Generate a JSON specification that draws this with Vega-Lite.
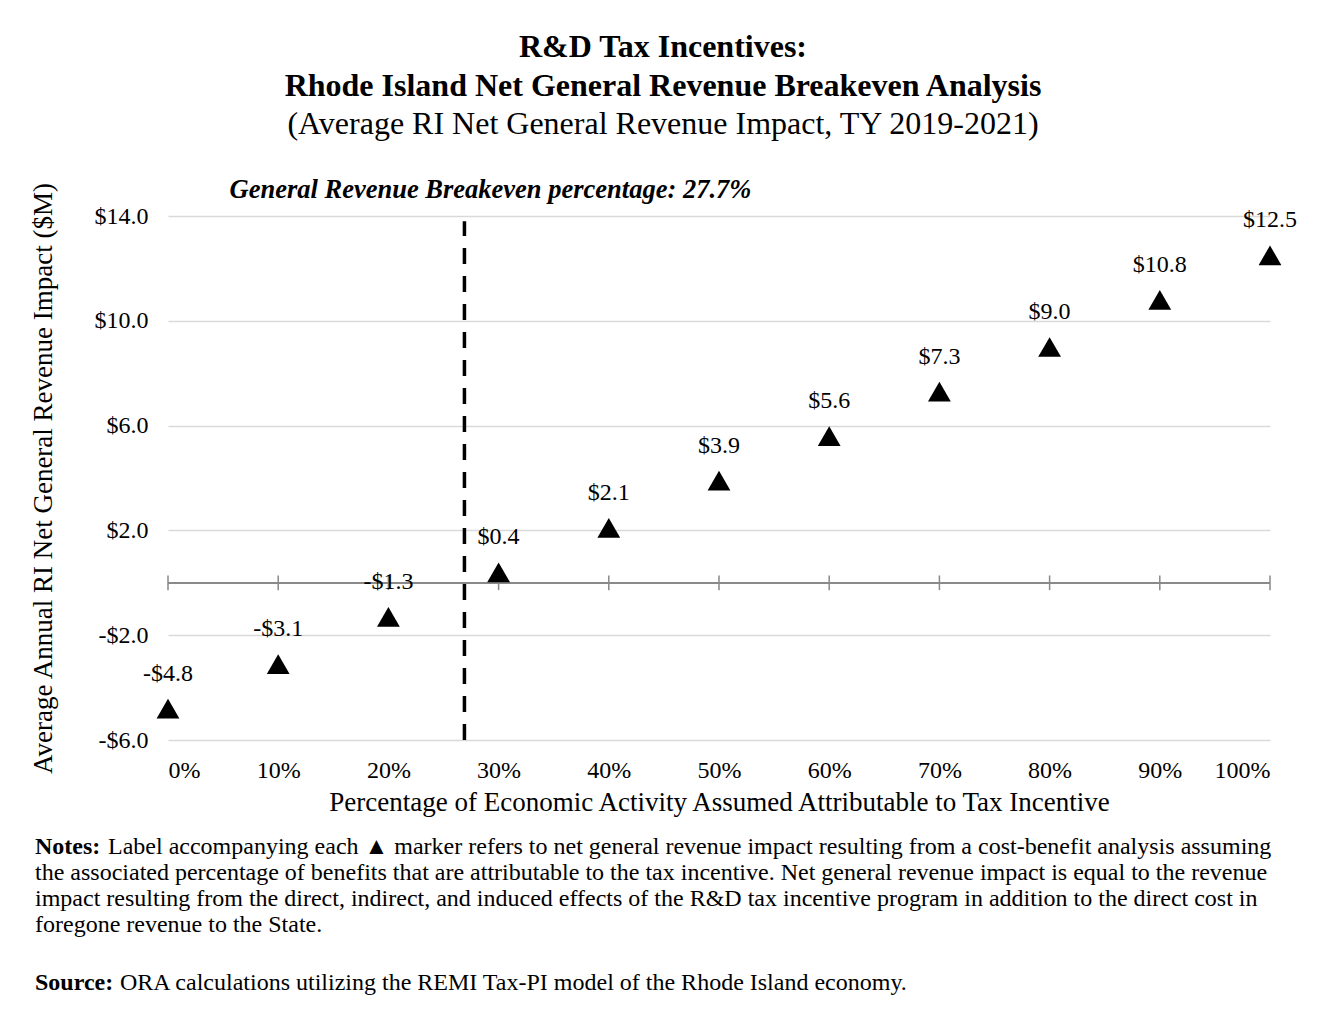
{
  "$schema": "https://vega.github.io/schema/vega-lite/v6.json",
  "background": "white",
  "padding": {"left": 28, "top": 31, "right": 5, "bottom": 5},
  "spacing": 20,
  "config": {
    "font": "Liberation Serif",
    "view": {"stroke": null},
    "axis": {"labelFont": "Liberation Serif", "titleFont": "Liberation Serif", "labelColor": "black", "titleColor": "black", "titleFontWeight": "normal"},
    "text": {"font": "Liberation Serif", "color": "black"}
  },
  "datasets": {
    "points": [
      {"pct": 0, "value": -4.8, "label": "-$4.8"},
      {"pct": 10, "value": -3.1, "label": "-$3.1"},
      {"pct": 20, "value": -1.3, "label": "-$1.3"},
      {"pct": 30, "value": 0.4, "label": "$0.4"},
      {"pct": 40, "value": 2.1, "label": "$2.1"},
      {"pct": 50, "value": 3.9, "label": "$3.9"},
      {"pct": 60, "value": 5.6, "label": "$5.6"},
      {"pct": 70, "value": 7.3, "label": "$7.3"},
      {"pct": 80, "value": 9.0, "label": "$9.0"},
      {"pct": 90, "value": 10.8, "label": "$10.8"},
      {"pct": 100, "value": 12.5, "label": "$12.5"}
    ],
    "breakeven": [
      {"pct": 26.9, "label": "General Revenue Breakeven percentage: 27.7%"}
    ],
    "notes": [
      {"line": 0, "lead": "Notes:", "text": "Label accompanying each \u25b2 marker refers to net general revenue impact resulting from a cost-benefit analysis assuming"},
      {"line": 1, "lead": "", "text": "the associated percentage of benefits that are attributable to the tax incentive. Net general revenue impact is equal to the revenue"},
      {"line": 2, "lead": "", "text": "impact resulting from the direct, indirect, and induced effects of the R&D tax incentive program in addition to the direct cost in"},
      {"line": 3, "lead": "", "text": "foregone revenue to the State."},
      {"line": 5.2, "lead": "Source:", "text": "ORA calculations utilizing the REMI Tax-PI model of the Rhode Island economy."}
    ]
  },
  "vconcat": [
    {
      "width": 1102,
      "height": 524,
      "title": {
        "text": ["R&D Tax Incentives:", "Rhode Island Net General Revenue Breakeven Analysis"],
        "subtitle": "(Average RI Net General Revenue Impact, TY 2019-2021)",
        "anchor": "middle",
        "frame": "bounds",
        "font": "Liberation Serif",
        "fontSize": 32,
        "fontWeight": "bold",
        "color": "black",
        "lineHeight": 39,
        "subtitleFont": "Liberation Serif",
        "subtitleFontSize": 32,
        "subtitleColor": "black",
        "subtitlePadding": 6,
        "offset": 36
      },
      "layer": [
        {
          "data": {"name": "points"},
          "mark": {"type": "rule", "color": "#898989", "strokeWidth": 1.5},
          "encoding": {
            "x": {
              "field": "pct", "type": "quantitative",
              "scale": {"domain": [0, 100], "nice": false},
              "axis": {
                "values": [0, 10, 20, 30, 40, 50, 60, 70, 80, 90, 100],
                "labelExpr": "datum.value + '%'",
                "title": "Percentage of Economic Activity Assumed Attributable to Tax Incentive",
                "grid": false, "domain": false, "ticks": false,
                "labelPadding": 18, "labelFontSize": 24,
                "titleFontSize": 27, "titlePadding": 7
              }
            },
            "y": {
              "datum": -0.28, "type": "quantitative",
              "scale": {"domain": [-6, 14], "nice": false, "zero": false},
              "axis": {
                "values": [-6, -2, 2, 6, 10, 14],
                "labelExpr": "datum.value < 0 ? '-$' + format(-datum.value, '.1f') : '$' + format(datum.value, '.1f')",
                "title": "Average Annual RI Net General Revenue Impact ($M)",
                "grid": true, "domain": false, "ticks": false,
                "labelPadding": 20, "labelFontSize": 24,
                "titleFontSize": 27, "titlePadding": 37,
                "gridColor": "#d9d9d9", "gridWidth": 1.5
              }
            },
            "y2": {"datum": 0.28}
          }
        },
        {
          "data": {"name": "points"},
          "mark": {"type": "rule", "color": "#898989", "strokeWidth": 1.5},
          "encoding": {"y": {"datum": 0, "type": "quantitative"}}
        },
        {
          "data": {"name": "breakeven"},
          "mark": {"type": "rule", "color": "black", "strokeWidth": 3.5, "strokeDash": [16, 12]},
          "encoding": {
            "x": {"field": "pct", "type": "quantitative"},
            "y": {"datum": -6, "type": "quantitative"},
            "y2": {"datum": 13.8}
          }
        },
        {
          "data": {"name": "breakeven"},
          "mark": {"type": "text", "fontSize": 26.5, "fontWeight": "bold", "fontStyle": "italic", "dx": 26, "dy": -26, "baseline": "middle"},
          "encoding": {
            "x": {"field": "pct", "type": "quantitative"},
            "y": {"datum": 14, "type": "quantitative"},
            "text": {"field": "label"}
          }
        },
        {
          "data": {"name": "points"},
          "mark": {"type": "point", "shape": "triangle-up", "filled": true, "color": "black", "size": 520, "opacity": 1},
          "encoding": {
            "x": {"field": "pct", "type": "quantitative"},
            "y": {"field": "value", "type": "quantitative"}
          }
        },
        {
          "data": {"name": "points"},
          "mark": {"type": "text", "fontSize": 24, "dy": -35, "baseline": "middle"},
          "encoding": {
            "x": {"field": "pct", "type": "quantitative"},
            "y": {"field": "value", "type": "quantitative"},
            "text": {"field": "label"}
          }
        }
      ]
    },
    {
      "width": 1102,
      "height": 136,
      "data": {"name": "notes"},
      "encoding": {
        "x": {"datum": 0, "type": "quantitative", "scale": {"domain": [0, 1]}, "axis": null},
        "y": {"field": "line", "type": "quantitative", "scale": {"domain": [0, 5.2], "reverse": true, "nice": false, "zero": false}, "axis": null}
      },
      "layer": [
        {
          "mark": {"type": "text", "align": "left", "baseline": "middle", "fontSize": 24, "fontWeight": "bold", "dx": -133},
          "encoding": {"text": {"field": "lead"}}
        },
        {
          "transform": [{"filter": "datum.line == 0"}],
          "mark": {"type": "text", "align": "left", "baseline": "middle", "fontSize": 24, "dx": -60},
          "encoding": {"text": {"field": "text"}}
        },
        {
          "transform": [{"filter": "datum.line > 0 && datum.line < 5"}],
          "mark": {"type": "text", "align": "left", "baseline": "middle", "fontSize": 24, "dx": -133},
          "encoding": {"text": {"field": "text"}}
        },
        {
          "transform": [{"filter": "datum.line > 5"}],
          "mark": {"type": "text", "align": "left", "baseline": "middle", "fontSize": 24, "dx": -48},
          "encoding": {"text": {"field": "text"}}
        }
      ]
    }
  ]
}
